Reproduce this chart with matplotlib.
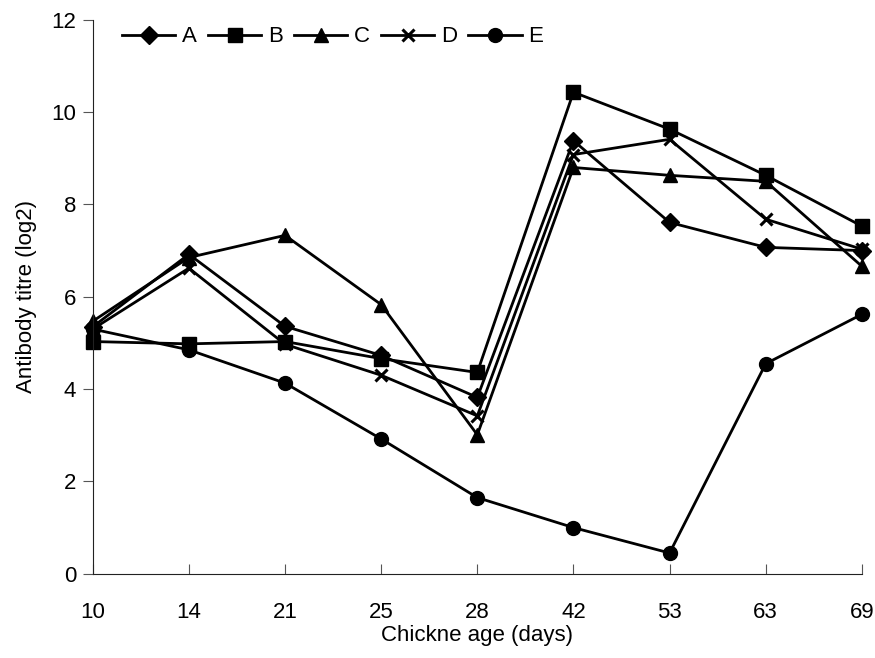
import matplotlib
matplotlib.use("Agg")
import matplotlib.pyplot as plt

plt.rcParams["font.family"] = ["Liberation Sans", "DejaVu Sans"]

ages = ["10", "14", "21", "25", "28", "42", "53", "63", "69"]
group_a = [5.35, 6.92, 5.36, 4.73, 3.82, 9.38, 7.61, 7.07, 7.00]
group_b = [5.03, 4.98, 5.03, 4.66, 4.36, 10.43, 9.63, 8.63, 7.53]
group_c = [5.47, 6.85, 7.33, 5.83, 3.01, 8.80, 8.63, 8.50, 6.66]
group_d = [5.30, 6.62, 4.97, 4.30, 3.42, 9.08, 9.41, 7.68, 7.03]
group_e = [5.30, 4.85, 4.13, 2.92, 1.65, 1.00, 0.45, 4.55, 5.62]

series = [
    ("A", group_a, "D", 9),
    ("B", group_b, "s", 10),
    ("C", group_c, "^", 10),
    ("D", group_d, "x", 9),
    ("E", group_e, "o", 10),
]

fig = plt.figure(figsize=(8.75, 6.58), dpi=100)
ax = fig.add_axes([0.106, 0.128, 0.879, 0.842])

x = list(range(len(ages)))
for name, vals, mk, ms in series:
    ax.plot(x, vals, color="black", lw=2, marker=mk, markersize=ms,
            markeredgewidth=2.2 if mk == "x" else 1, label=name, clip_on=False)

ax.set_xlim(0, len(ages) - 1)
ax.set_ylim(0, 12)
ax.set_xticks(x)
ax.set_xticklabels(ages)
ax.set_yticks(range(0, 13, 2))

for side in ("top", "right"):
    ax.spines[side].set_visible(False)
ax.spines["left"].set_color("#222222")
ax.spines["bottom"].set_color("#222222")
ax.tick_params(axis="y", direction="out", length=7, color="#555555", labelsize=16, pad=5)
ax.tick_params(axis="x", direction="in", length=7, color="#555555", labelsize=16, pad=20)

ax.set_xlabel("Chickne age (days)", fontsize=16, labelpad=2)
ax.set_ylabel("Antibody titre (log2)", fontsize=16, labelpad=10)

ax.legend(loc="upper left", bbox_to_anchor=(0.012, 1.024), ncol=5, frameon=False,
          fontsize=16, handlelength=2.4, handletextpad=0.3, columnspacing=0.5)

fig.savefig("out.png", dpi=100)
